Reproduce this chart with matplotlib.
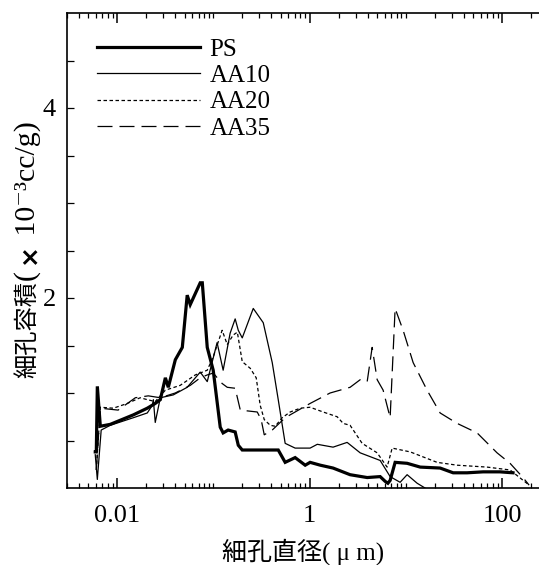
import matplotlib
matplotlib.use("Agg")
import matplotlib.pyplot as plt
from matplotlib.ticker import FixedLocator, NullFormatter, FixedFormatter

# ---- data (pore diameter in um, pore volume in 1e-3 cc/g) ----
ps_d = [0.0059, 0.00605, 0.0062, 0.00666, 0.00845, 0.0147, 0.0205, 0.0248, 0.028,
        0.0316, 0.0339, 0.0401, 0.0474, 0.0533, 0.0573, 0.0728, 0.0765, 0.0861,
        0.0993, 0.1175, 0.126, 0.142, 0.168, 0.181, 0.199, 0.321, 0.471, 0.556,
        0.706, 0.898, 1.01, 1.29, 1.75, 2.63, 3.96, 5.40, 6.09, 6.5, 6.86, 7.73,
        10.3, 14.1, 22.7, 31.0, 43.3, 63.5, 95.0, 130.0]
ps_v = [0.38, 0.38, 1.07, 0.65, 0.67, 0.77, 0.84, 0.89, 0.93,
        1.16, 1.06, 1.35, 1.48, 2.03, 1.93, 2.16, 2.16, 1.48,
        1.24, 0.64, 0.58, 0.61, 0.59, 0.45, 0.40, 0.40, 0.40, 0.27,
        0.32, 0.24, 0.27, 0.24, 0.21, 0.14, 0.11, 0.12, 0.07, 0.05, 0.08, 0.27,
        0.26, 0.22, 0.21, 0.16, 0.16, 0.17, 0.17, 0.16]

aa10_d = [0.0059, 0.0062, 0.0068, 0.00845, 0.0147, 0.0205, 0.0231, 0.0237, 0.0248,
          0.028, 0.0382, 0.0533, 0.0728, 0.0861, 0.109, 0.126, 0.149, 0.168,
          0.181, 0.199, 0.259, 0.329, 0.408, 0.471, 0.556, 0.706, 0.898, 1.01,
          1.20, 1.75, 2.45, 3.35, 5.40, 6.86, 8.71, 10.3, 13.1, 15.8]
aa10_v = [0.35, 0.09, 0.61, 0.66, 0.74, 0.79, 0.87, 0.93, 0.69,
          0.95, 0.98, 1.06, 1.22, 1.12, 1.53, 1.24, 1.63, 1.78,
          1.66, 1.58, 1.89, 1.74, 1.32, 0.93, 0.47, 0.42, 0.42, 0.42,
          0.46, 0.43, 0.48, 0.37, 0.29, 0.12, 0.06, 0.14, 0.05, 0.0]

aa20_d = [0.00605, 0.00666, 0.0091, 0.0127, 0.0173, 0.0205, 0.0248, 0.0316, 0.045,
          0.0646, 0.0861, 0.0993, 0.123, 0.139, 0.160, 0.177, 0.199, 0.241,
          0.278, 0.306, 0.337, 0.389, 0.438, 0.518, 0.627, 0.796, 1.01, 1.38,
          1.93, 2.23, 2.63, 3.51, 5.03, 6.38, 7.20, 11.1, 21.1, 34.1, 69.9,
          121.0, 186.0]
aa20_v = [0.19, 0.85, 0.84, 0.89, 0.95, 0.93, 0.91, 1.03, 1.08,
          1.19, 1.24, 1.38, 1.66, 1.51, 1.61, 1.64, 1.33, 1.26,
          1.16, 0.87, 0.72, 0.66, 0.65, 0.74, 0.80, 0.84, 0.85, 0.80,
          0.75, 0.68, 0.66, 0.47, 0.37, 0.22, 0.42, 0.38, 0.27, 0.24, 0.22,
          0.19, 0.04]

aa35_d = [0.00605, 0.00666, 0.0102, 0.0154, 0.021, 0.028, 0.040, 0.0573, 0.0728,
          0.0861, 0.0993, 0.123, 0.139, 0.168, 0.190, 0.285, 0.313, 0.337,
          0.408, 0.556, 0.706, 1.01, 1.63, 2.63, 3.35, 3.96, 4.46, 5.03,
          5.80, 6.86, 7.73, 9.36, 11.9, 16.6, 22.7, 34.1, 55.0, 88.7, 121.0,
          165.0, 191.0]
aa35_v = [0.19, 0.84, 0.82, 0.95, 0.97, 0.95, 1.00, 1.08, 1.16,
          1.19, 1.21, 1.10, 1.06, 1.05, 0.82, 0.80, 0.72, 0.56,
          0.61, 0.74, 0.80, 0.89, 1.00, 1.06, 1.14, 1.12, 1.48, 1.14,
          1.03, 0.74, 1.89, 1.66, 1.32, 1.03, 0.79, 0.68, 0.58, 0.37, 0.26,
          0.11, 0.03]

labels = ["PS", "AA10", "AA20", "AA35"]
x_major = [0.01, 1, 100]
x_major_labels = ["0.01", "1", "100"]
y_major = [2, 4]
y_major_labels = ["2", "4"]
xlabel_text = "細孔直径( μ m)"
# y label pieces: (text, font families, size, weight)
ylabel_parts = [
    ("細孔容積", ["Noto Sans CJK JP"], 17.5, "normal"),
    ("( ", ["Liberation Serif"], 21.5, "normal"),
    ("×", ["DejaVu Sans"], 18, "bold"),
    (" 10⁻³cc/g)", ["Liberation Serif", "DejaVu Serif"], 21.5, "normal"),
]

SERIF = ["Liberation Serif", "Noto Sans CJK JP", "DejaVu Serif"]
plt.rcParams["font.family"] = SERIF

W, H = 539, 565
fig = plt.figure(figsize=(W / 100, H / 100), dpi=100)
ax = fig.add_axes([67 / W, 77 / H, 472 / W, 475 / H])

l1, = ax.plot(ps_d, ps_v, color="black", lw=2.3, solid_joinstyle="miter")
l2, = ax.plot(aa10_d, aa10_v, color="black", lw=0.9)
l3, = ax.plot(aa20_d, aa20_v, color="black", lw=0.9, dashes=(2.8, 2.0))
l4, = ax.plot(aa35_d, aa35_v, color="black", lw=0.9, dashes=(12, 5.6))

ax.set_xscale("log")
ax.set_xlim(0.0030, 242)
ax.set_ylim(0, 5)

for s in ["left", "top", "bottom"]:
    ax.spines[s].set_linewidth(1.2)
ax.spines["right"].set_visible(False)

ax.xaxis.set_major_locator(FixedLocator(x_major))
ax.xaxis.set_major_formatter(FixedFormatter(x_major_labels))
minors = []
for dec in [0.001, 0.01, 0.1, 1, 10, 100]:
    for k in range(1, 10):
        v = dec * k
        if 0.003 <= v <= 242 and v not in x_major:
            minors.append(v)
ax.xaxis.set_minor_locator(FixedLocator(minors))
ax.xaxis.set_minor_formatter(NullFormatter())

ax.yaxis.set_major_locator(FixedLocator(y_major))
ax.yaxis.set_major_formatter(FixedFormatter(y_major_labels))
ax.yaxis.set_minor_locator(FixedLocator([0.5, 1, 1.5, 2.5, 3, 3.5, 4.5]))
ax.yaxis.set_minor_formatter(NullFormatter())

ax.tick_params(axis="x", which="major", direction="in", top=True, bottom=True,
               length=7, width=1.1, labelsize=19, pad=12)
ax.tick_params(axis="x", which="minor", direction="in", top=True, bottom=True,
               length=3.5, width=0.9)
ax.tick_params(axis="y", which="both", direction="in", right=False,
               length=5, width=0.9, labelsize=19, pad=8)

ax.set_xlabel(xlabel_text, fontsize=18, family=SERIF)
ax.xaxis.set_label_coords(0.5, -0.105)

# y label assembled from rotated pieces, bottom to top
fig.canvas.draw()
renderer = fig.canvas.get_renderer()
y_px = 378.0  # from top
x_px = 28.0
for txt, fam, size, weight in ylabel_parts:
    t = fig.text(x_px / W, (H - y_px) / H, txt, rotation=90, rotation_mode="anchor",
                 ha="left", va="center", fontsize=size, family=fam, fontweight=weight)
    bb = t.get_window_extent(renderer)
    y_px -= bb.height

leg = ax.legend([l1, l2, l3, l4], labels, loc="upper left",
                bbox_to_anchor=((97 - 67) / 472, (488 - 38) / 475),
                frameon=False, fontsize=18, handlelength=4.1, handletextpad=0.4,
                borderaxespad=0, borderpad=0, labelspacing=0.16)

fig.savefig("out.png", dpi=100)
